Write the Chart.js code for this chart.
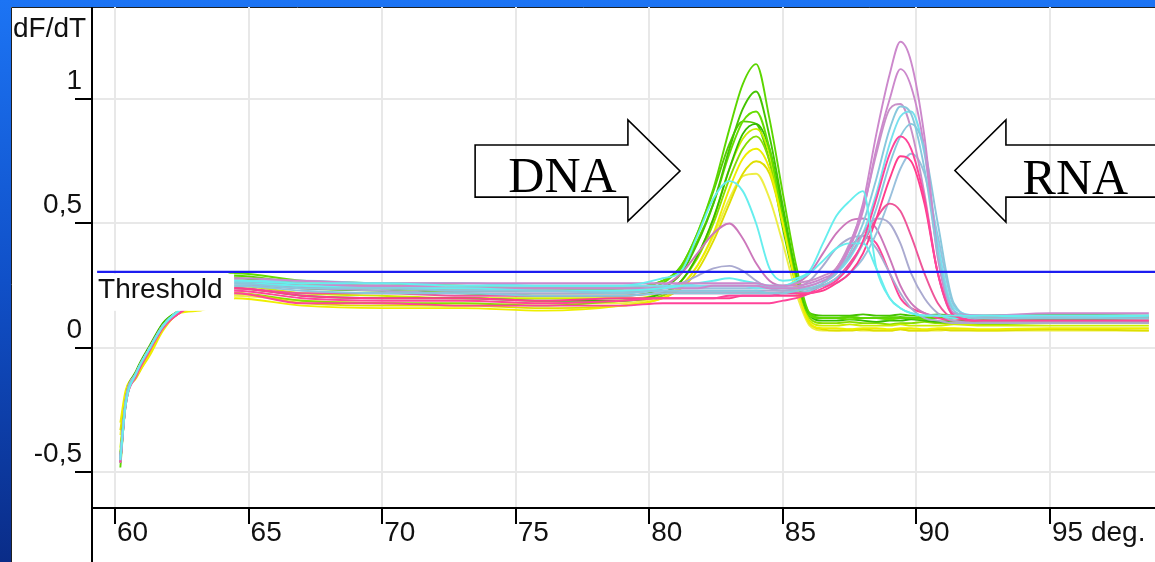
<!DOCTYPE html>
<html><head><meta charset="utf-8">
<script src="https://cdn.jsdelivr.net/npm/chart.js@4.4.1/dist/chart.umd.min.js"></script>
<style>html,body{margin:0;padding:0;background:#fff;overflow:hidden}canvas{display:block}</style>
</head><body>
<canvas id="c" width="1155" height="562"></canvas>
<script>
// ---- data ----
const TEMPS = [60.2, 60.4, 60.8, 61.3, 61.8, 62.4, 63.2, 64.5, 67, 70, 73, 76, 79, 80.5, 81.2, 81.8, 82.4, 83, 83.5, 84, 84.5, 85, 85.5, 86, 86.5, 87, 87.5, 88, 88.5, 89, 89.4, 89.8, 90.3, 90.8, 91.4, 92.5, 95, 98.7];

const X_TICKS = [60, 65, 70, 75, 80, 85, 90, 95];
const X_TICK_LABELS = ['60', '65', '70', '75', '80', '85', '90', '95 deg.'];
const Y_TICKS = [-0.5, 0, 0.5, 1];
const Y_TICK_LABELS = ['-0,5', '0', '0,5', '1'];
const Y_TITLE = 'dF/dT';
const THRESHOLD = 0.306;
const THRESHOLD_START = 59.33;
const THRESHOLD_LABEL = 'Threshold';

// DNA product curves (green / yellow)
const G1 = [-0.48,-0.22,-0.10,0.00,0.09,0.15,0.21,0.29,0.26,0.25,0.24,0.24,0.23,0.26,0.33,0.46,0.64,0.88,1.06,1.14,0.92,0.62,0.33,0.14,0.12,0.12,0.125,0.12,0.12,0.125,0.12,0.12,0.125,0.12,0.12,0.125,0.12,0.125];
const G2 = [-0.45,-0.21,-0.09,0.01,0.10,0.15,0.20,0.27,0.24,0.23,0.22,0.21,0.21,0.24,0.30,0.42,0.58,0.80,0.96,1.03,0.85,0.57,0.30,0.14,0.13,0.13,0.13,0.135,0.13,0.13,0.135,0.13,0.13,0.135,0.13,0.13,0.135,0.13];
const G3 = [-0.43,-0.20,-0.10,0.00,0.09,0.15,0.21,0.30,0.27,0.26,0.25,0.24,0.24,0.27,0.32,0.43,0.58,0.78,0.91,0.95,0.80,0.52,0.28,0.13,0.12,0.12,0.115,0.12,0.12,0.115,0.12,0.12,0.115,0.12,0.12,0.115,0.12,0.12];
const G4 = [-0.44,-0.22,-0.10,0.00,0.09,0.15,0.20,0.24,0.21,0.20,0.20,0.19,0.19,0.22,0.27,0.37,0.52,0.72,0.86,0.90,0.80,0.55,0.29,0.13,0.11,0.11,0.115,0.11,0.105,0.11,0.11,0.115,0.11,0.105,0.11,0.11,0.115,0.11];
const G5 = [-0.42,-0.21,-0.11,-0.01,0.08,0.14,0.19,0.22,0.19,0.18,0.18,0.17,0.19,0.21,0.27,0.36,0.50,0.68,0.80,0.85,0.75,0.50,0.26,0.12,0.10,0.10,0.105,0.10,0.10,0.095,0.10,0.10,0.105,0.10,0.10,0.095,0.10,0.10];
const G6 = [-0.46,-0.23,-0.10,0.00,0.10,0.15,0.21,0.28,0.25,0.24,0.23,0.23,0.24,0.27,0.33,0.46,0.63,0.82,0.91,0.90,0.75,0.48,0.25,0.13,0.12,0.12,0.125,0.12,0.12,0.12,0.125,0.12,0.12,0.12,0.125,0.12,0.12,0.12];
const Y1 = [-0.30,-0.17,-0.11,-0.03,0.07,0.14,0.15,0.20,0.17,0.16,0.16,0.15,0.17,0.20,0.25,0.33,0.46,0.64,0.76,0.80,0.72,0.50,0.25,0.10,0.08,0.08,0.075,0.08,0.08,0.075,0.08,0.08,0.075,0.08,0.08,0.075,0.08,0.08];
const Y2 = [-0.33,-0.19,-0.12,-0.02,0.08,0.14,0.17,0.22,0.18,0.17,0.17,0.16,0.17,0.20,0.24,0.31,0.43,0.58,0.70,0.75,0.70,0.50,0.26,0.10,0.075,0.07,0.07,0.075,0.07,0.07,0.075,0.07,0.07,0.075,0.07,0.07,0.075,0.07];
const Y3 = [-0.40,-0.20,-0.10,0.00,0.09,0.15,0.19,0.25,0.22,0.21,0.20,0.20,0.20,0.22,0.27,0.37,0.52,0.72,0.84,0.88,0.78,0.52,0.27,0.11,0.09,0.09,0.095,0.09,0.09,0.09,0.095,0.09,0.09,0.09,0.095,0.09,0.09,0.09];
const Y4 = [-0.35,-0.18,-0.11,-0.02,0.08,0.14,0.17,0.21,0.19,0.18,0.17,0.18,0.18,0.21,0.25,0.33,0.45,0.60,0.69,0.70,0.60,0.42,0.22,0.09,0.07,0.07,0.075,0.07,0.07,0.07,0.075,0.07,0.07,0.07,0.075,0.07,0.07,0.07];

// mixed / RNA product curves
const C1 = [-0.45,-0.23,-0.10,0.00,0.09,0.15,0.20,0.27,0.26,0.26,0.25,0.25,0.25,0.28,0.31,0.45,0.60,0.67,0.63,0.50,0.32,0.27,0.28,0.31,0.42,0.53,0.59,0.63,0.32,0.20,0.16,0.14,0.13,0.13,0.13,0.13,0.13,0.13];
const C2 = [-0.44,-0.22,-0.10,0.00,0.09,0.15,0.20,0.26,0.25,0.24,0.24,0.23,0.23,0.24,0.25,0.26,0.27,0.28,0.27,0.26,0.25,0.25,0.27,0.30,0.35,0.40,0.42,0.42,0.32,0.20,0.16,0.14,0.13,0.13,0.12,0.13,0.12,0.13];
const C3 = [-0.46,-0.22,-0.10,0.00,0.09,0.15,0.20,0.27,0.27,0.26,0.26,0.25,0.25,0.25,0.25,0.25,0.25,0.25,0.25,0.24,0.24,0.24,0.24,0.25,0.27,0.30,0.36,0.46,0.62,0.82,0.93,0.95,0.78,0.42,0.16,0.13,0.13,0.13];
const LB1 = [-0.45,-0.22,-0.10,0.00,0.09,0.15,0.20,0.26,0.24,0.24,0.23,0.23,0.22,0.23,0.23,0.23,0.23,0.23,0.23,0.23,0.22,0.22,0.23,0.24,0.26,0.30,0.38,0.50,0.68,0.88,0.97,0.94,0.72,0.38,0.15,0.12,0.12,0.12];
const LB2 = [-0.44,-0.21,-0.10,0.00,0.09,0.15,0.20,0.25,0.23,0.22,0.22,0.21,0.21,0.22,0.22,0.22,0.22,0.22,0.22,0.22,0.22,0.22,0.22,0.23,0.25,0.28,0.33,0.42,0.56,0.74,0.85,0.90,0.80,0.50,0.18,0.11,0.11,0.11];
const LB3 = [-0.45,-0.22,-0.10,0.00,0.09,0.15,0.20,0.26,0.25,0.25,0.24,0.24,0.24,0.24,0.24,0.24,0.24,0.24,0.24,0.24,0.24,0.24,0.24,0.24,0.25,0.26,0.30,0.36,0.46,0.60,0.72,0.78,0.70,0.45,0.17,0.12,0.11,0.11];
const O1 = [-0.46,-0.22,-0.10,0.00,0.09,0.15,0.21,0.28,0.27,0.26,0.26,0.26,0.26,0.26,0.26,0.26,0.26,0.26,0.26,0.26,0.25,0.25,0.25,0.26,0.28,0.31,0.41,0.58,0.86,1.10,1.23,1.15,0.85,0.38,0.14,0.13,0.14,0.14];
const O2 = [-0.45,-0.21,-0.10,0.00,0.09,0.15,0.20,0.27,0.25,0.25,0.24,0.24,0.24,0.24,0.24,0.24,0.25,0.25,0.25,0.25,0.24,0.24,0.24,0.25,0.27,0.30,0.40,0.55,0.80,1.00,1.12,1.05,0.80,0.36,0.14,0.13,0.13,0.13];
const O3 = [-0.44,-0.22,-0.10,0.00,0.09,0.15,0.20,0.27,0.26,0.25,0.25,0.25,0.25,0.25,0.25,0.25,0.25,0.25,0.25,0.25,0.25,0.25,0.26,0.27,0.29,0.32,0.42,0.56,0.78,0.96,0.98,0.88,0.62,0.30,0.13,0.12,0.12,0.12];
const O4 = [-0.44,-0.22,-0.10,0.00,0.09,0.15,0.20,0.26,0.24,0.24,0.23,0.23,0.23,0.25,0.30,0.38,0.46,0.50,0.44,0.34,0.27,0.25,0.26,0.30,0.38,0.46,0.51,0.52,0.48,0.36,0.25,0.18,0.14,0.13,0.13,0.13,0.13,0.13];
const LV1 = [-0.45,-0.22,-0.10,0.00,0.09,0.15,0.20,0.26,0.25,0.24,0.24,0.23,0.23,0.23,0.23,0.23,0.23,0.23,0.23,0.23,0.23,0.23,0.23,0.24,0.26,0.31,0.37,0.46,0.52,0.50,0.42,0.30,0.20,0.14,0.11,0.10,0.10,0.10];
const LV2 = [-0.44,-0.21,-0.10,0.00,0.09,0.15,0.20,0.25,0.24,0.23,0.22,0.22,0.22,0.24,0.26,0.29,0.32,0.33,0.31,0.27,0.24,0.23,0.24,0.27,0.33,0.40,0.44,0.45,0.40,0.30,0.22,0.16,0.12,0.11,0.10,0.10,0.10,0.10];
const P1 = [-0.46,-0.23,-0.11,0.00,0.09,0.14,0.19,0.23,0.20,0.19,0.19,0.18,0.19,0.20,0.20,0.20,0.20,0.21,0.21,0.21,0.21,0.22,0.22,0.22,0.24,0.27,0.33,0.43,0.60,0.78,0.85,0.80,0.60,0.30,0.13,0.11,0.11,0.11];
const P2 = [-0.44,-0.22,-0.10,0.00,0.09,0.14,0.19,0.24,0.21,0.20,0.20,0.19,0.20,0.20,0.20,0.20,0.20,0.20,0.21,0.21,0.21,0.21,0.21,0.22,0.23,0.26,0.30,0.38,0.52,0.68,0.77,0.75,0.58,0.30,0.13,0.11,0.11,0.11];
const P3 = [-0.45,-0.22,-0.10,0.00,0.09,0.14,0.19,0.24,0.22,0.22,0.21,0.21,0.21,0.22,0.22,0.22,0.22,0.22,0.22,0.22,0.22,0.22,0.22,0.23,0.25,0.28,0.34,0.42,0.52,0.58,0.55,0.45,0.30,0.18,0.12,0.11,0.11,0.11];
const P4 = [-0.46,-0.23,-0.11,-0.01,0.08,0.14,0.18,0.22,0.18,0.18,0.17,0.17,0.17,0.18,0.18,0.18,0.18,0.18,0.18,0.18,0.18,0.19,0.20,0.22,0.26,0.32,0.40,0.45,0.42,0.30,0.20,0.16,0.14,0.12,0.11,0.10,0.10,0.10];

// first entry is drawn on top
const SERIES = [
  ['C1', C1, '#66eeee'], ['LB1', LB1, '#88c8dd'], ['P1', P1, '#ff4499'], ['O1', O1, '#cc88cc'],
  ['C2', C2, '#66eeee'], ['LB2', LB2, '#88c8dd'], ['P2', P2, '#ff3c8c'], ['O2', O2, '#cc88cc'],
  ['LV1', LV1, '#aaaad0'], ['C3', C3, '#77e0ee'], ['P3', P3, '#ee5599'], ['O3', O3, '#c890c8'],
  ['LB3', LB3, '#99c0dd'], ['O4', O4, '#cc77bb'], ['LV2', LV2, '#aaaad0'], ['P4', P4, '#ff4499'],
  ['G1', G1, '#5cd600'], ['G2', G2, '#44c400'], ['Y1', Y1, '#eeee00'], ['G3', G3, '#66dd00'],
  ['Y2', Y2, '#dede00'], ['G4', G4, '#33bb00'], ['Y3', Y3, '#ccee00'], ['G5', G5, '#88dd00'],
  ['Y4', Y4, '#eeee44'], ['G6', G6, '#55cc00']
];

// annotation arrows, in data units
const DNA_ARROW = {left: 73.48, neck: 79.2, tip: 81.15, top: 0.815, bottom: 0.606, headTop: 0.916, headBottom: 0.51, mid: 0.711, text: 'DNA', textX: 76.75, textY: 0.625};
const RNA_ARROW = {right: 100, neck: 93.35, tip: 91.44, top: 0.815, bottom: 0.606, headTop: 0.916, headBottom: 0.506, mid: 0.713, text: 'RNA', textX: 95.95, textY: 0.62};

// ---- chart ----
const datasets = [{
  label: THRESHOLD_LABEL,
  data: [{x: THRESHOLD_START, y: THRESHOLD}, {x: 100, y: THRESHOLD}],
  borderColor: '#1c1cf0', borderWidth: 2.2, pointRadius: 0, tension: 0
}];
SERIES.forEach(([name, vals, col]) => {
  datasets.push({
    label: name,
    data: vals.map((v, i) => ({x: TEMPS[i], y: v})),
    borderColor: col, borderWidth: 1.9, pointRadius: 0,
    cubicInterpolationMode: 'monotone', fill: false
  });
});

const FONT = '28px "Liberation Sans", Arial, sans-serif';

const decor = {
  id: 'decor',
  beforeDraw(chart) {
    const ctx = chart.ctx, W = chart.width, H = chart.height;
    ctx.save();
    const g = ctx.createLinearGradient(0, 0, 0, H);
    g.addColorStop(0, '#1c74f4');
    g.addColorStop(0.5, '#1050c8');
    g.addColorStop(1, '#0a2c88');
    ctx.fillStyle = g;
    ctx.fillRect(0, 0, W, H);
    ctx.fillStyle = '#ffffff';
    ctx.fillRect(11, 7, W - 11, H - 7);
    ctx.strokeStyle = '#202020';
    ctx.lineWidth = 1;
    ctx.beginPath();
    ctx.moveTo(11.5, H); ctx.lineTo(11.5, 7.5); ctx.lineTo(W, 7.5);
    ctx.stroke();
    ctx.restore();
  },
  afterDatasetsDraw(chart) {
    const ctx = chart.ctx, xs = chart.scales.x, ys = chart.scales.y, a = chart.chartArea;
    const W = chart.width, H = chart.height;
    ctx.save();
    // threshold label with white box
    const ty = ys.getPixelForValue(THRESHOLD);
    const tx = xs.getPixelForValue(THRESHOLD_START);
    ctx.fillStyle = '#ffffff';
    ctx.fillRect(tx - 3, ty + 2, 140, 37);
    ctx.fillStyle = '#111';
    ctx.font = FONT;
    ctx.textAlign = 'left'; ctx.textBaseline = 'middle';
    ctx.fillText(THRESHOLD_LABEL, tx + 1, ty + 18);

    // axes
    ctx.strokeStyle = '#000'; ctx.lineWidth = 2;
    ctx.beginPath();
    ctx.moveTo(a.left, a.top); ctx.lineTo(a.left, H);
    ctx.moveTo(a.left, a.bottom); ctx.lineTo(W, a.bottom);
    Y_TICKS.forEach(v => { const y = Math.round(ys.getPixelForValue(v)); ctx.moveTo(a.left - 17, y); ctx.lineTo(a.left, y); });
    X_TICKS.forEach(v => { const x = Math.round(xs.getPixelForValue(v)); ctx.moveTo(x, a.bottom); ctx.lineTo(x, a.bottom + 16); });
    ctx.stroke();

    ctx.fillStyle = '#111';
    ctx.font = FONT;
    ctx.textAlign = 'right'; ctx.textBaseline = 'middle';
    Y_TICKS.forEach((v, i) => ctx.fillText(Y_TICK_LABELS[i], a.left - 10, ys.getPixelForValue(v) - 18));
    ctx.textAlign = 'left';
    X_TICKS.forEach((v, i) => ctx.fillText(X_TICK_LABELS[i], xs.getPixelForValue(v) + 2, a.bottom + 25));
    ctx.fillText(Y_TITLE, 13, 29);

    // arrows
    ctx.strokeStyle = '#000'; ctx.lineWidth = 1.6; ctx.lineJoin = 'miter';
    const X = v => xs.getPixelForValue(v), Yp = v => ys.getPixelForValue(v);
    let d = DNA_ARROW;
    ctx.beginPath();
    ctx.moveTo(X(d.left), Yp(d.top)); ctx.lineTo(X(d.neck), Yp(d.top)); ctx.lineTo(X(d.neck), Yp(d.headTop));
    ctx.lineTo(X(d.tip), Yp(d.mid)); ctx.lineTo(X(d.neck), Yp(d.headBottom)); ctx.lineTo(X(d.neck), Yp(d.bottom));
    ctx.lineTo(X(d.left), Yp(d.bottom)); ctx.closePath(); ctx.stroke();
    d = RNA_ARROW;
    ctx.beginPath();
    ctx.moveTo(X(d.right), Yp(d.top)); ctx.lineTo(X(d.neck), Yp(d.top)); ctx.lineTo(X(d.neck), Yp(d.headTop));
    ctx.lineTo(X(d.tip), Yp(d.mid)); ctx.lineTo(X(d.neck), Yp(d.headBottom)); ctx.lineTo(X(d.neck), Yp(d.bottom));
    ctx.lineTo(X(d.right), Yp(d.bottom)); ctx.stroke();
    ctx.font = '50px "Liberation Serif", "Times New Roman", serif';
    ctx.textAlign = 'center'; ctx.textBaseline = 'alphabetic';
    ctx.fillStyle = '#000';
    ctx.fillText(DNA_ARROW.text, X(DNA_ARROW.textX), Yp(DNA_ARROW.textY));
    ctx.fillText(RNA_ARROW.text, X(RNA_ARROW.textX), Yp(RNA_ARROW.textY));
    ctx.restore();
  }
};

new Chart(document.getElementById('c'), {
  type: 'line',
  data: {datasets},
  options: {
    responsive: false, animation: false, devicePixelRatio: 1,
    layout: {padding: {left: 92, top: 7, right: 0, bottom: 54}},
    plugins: {legend: {display: false}, tooltip: {enabled: false}},
    scales: {
      x: {
        type: 'linear', min: 59.139, max: 98.93,
        afterBuildTicks: s => { s.ticks = X_TICKS.map(v => ({value: v})); },
        afterFit: s => { s.height = 0; },
        ticks: {display: false},
        grid: {color: '#e8e8e8', lineWidth: 2, drawTicks: false},
        border: {display: false}
      },
      y: {
        type: 'linear', min: -0.6426, max: 1.3695,
        afterBuildTicks: s => { s.ticks = Y_TICKS.map(v => ({value: v})); },
        afterFit: s => { s.width = 0; },
        ticks: {display: false},
        grid: {color: '#e8e8e8', lineWidth: 2, drawTicks: false},
        border: {display: false}
      }
    }
  },
  plugins: [decor]
});
</script>
</body></html>
